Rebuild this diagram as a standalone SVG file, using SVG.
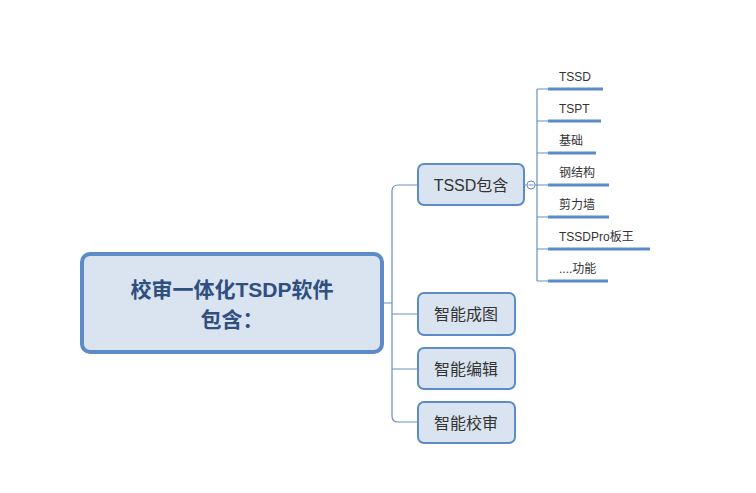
<svg xmlns="http://www.w3.org/2000/svg" width="756" height="493" viewBox="0 0 756 493">
<style>
.n{fill:#dae3f0;stroke:#5b8cc8;stroke-width:2}
.t{font-family:"Liberation Sans","Noto Sans CJK SC",sans-serif;fill:#333}
.c{fill:none;stroke:#6a8fc0;stroke-width:1.2}
.u{stroke:#5b8cc8;stroke-width:3}
</style>
<rect width="756" height="493" fill="#fff"/>
<g id="connectors">
<path class="c" d="M383 303H392M398 185Q392 185 392 191V416Q392 422 398 422H418M392 314H418M392 369H418M392 191 M398 185H418"/>
<path class="c" d="M524 185H527M535 185H537M537 89V281M537 89H548M537 121H548M537 153H548M537 185H548M537 217H548M537 249H548M537 281H548"/>
<circle cx="531" cy="185" r="4" fill="#fff" stroke="#6a8fc0"/>
<line x1="528.5" y1="185" x2="533.5" y2="185" stroke="#6a8fc0"/>
</g>
<g id="main"><rect x="82" y="254" width="300" height="98" rx="8" fill="#dae3f0" stroke="#5b8cc8" stroke-width="4"/>
<text class="t" x="232" y="297" text-anchor="middle" font-size="21" font-weight="bold" fill="#2f4f7f" style="fill:#2f4f7f">校审一体化TSDP软件</text>
<text class="t" x="232" y="327" text-anchor="middle" font-size="21" font-weight="bold" style="fill:#2f4f7f">包含：</text></g>
<g id="tssd"><rect class="n" x="418" y="164" width="106" height="41" rx="6"/><text class="t" x="471" y="191" text-anchor="middle" font-size="16">TSSD包含</text></g>
<g id="n2"><rect class="n" x="418" y="293" width="97" height="42" rx="6"/><text class="t" x="466" y="320" text-anchor="middle" font-size="16">智能成图</text></g>
<g id="n3"><rect class="n" x="418" y="348" width="97" height="41" rx="6"/><text class="t" x="466" y="375" text-anchor="middle" font-size="16">智能编辑</text></g>
<g id="n4"><rect class="n" x="418" y="402" width="97" height="41" rx="6"/><text class="t" x="466" y="429" text-anchor="middle" font-size="16">智能校审</text></g>
<g id="leaves" class="t" font-size="12">
<g id="l1"><text class="t" x="559" y="81">TSSD</text><line class="u" x1="548" y1="89" x2="603" y2="89"/></g>
<g id="l2"><text class="t" x="559" y="113">TSPT</text><line class="u" x1="548" y1="121" x2="601" y2="121"/></g>
<g id="l3"><text class="t" x="559" y="145">基础</text><line class="u" x1="548" y1="153" x2="596" y2="153"/></g>
<g id="l4"><text class="t" x="559" y="177">钢结构</text><line class="u" x1="548" y1="185" x2="609" y2="185"/></g>
<g id="l5"><text class="t" x="559" y="209">剪力墙</text><line class="u" x1="548" y1="217" x2="609" y2="217"/></g>
<g id="l6"><text class="t" x="559" y="241">TSSDPro板王</text><line class="u" x1="548" y1="249" x2="650" y2="249"/></g>
<g id="l7"><text class="t" x="559" y="273">....功能</text><line class="u" x1="548" y1="281" x2="608" y2="281"/></g>
</g>
</svg>
